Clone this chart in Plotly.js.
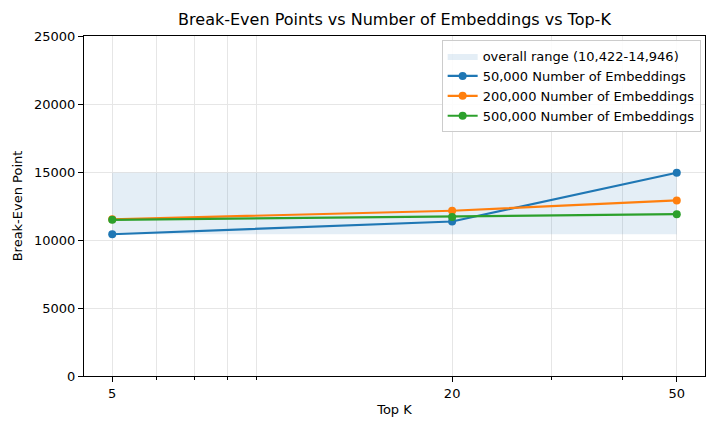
<!DOCTYPE html>
<html>
<head>
<meta charset="utf-8">
<script src="https://cdn.plot.ly/plotly-3.0.1.min.js"></script>
<style>
  html, body { margin: 0; padding: 0; background: #ffffff; }
  #chart { width: 720px; height: 432px; }
</style>
</head>
<body>
<div id="chart"></div>
<script>
  // values
  const topK = [5, 20, 50];
  const seriesNames = [
    "50,000 Number of Embeddings",
    "200,000 Number of Embeddings",
    "500,000 Number of Embeddings"
  ];
  const emb50k = [10422, 11360, 14946];
  const emb200k = [11520, 12150, 12910];
  const emb500k = [11480, 11700, 11900];
  const minorTicks = [6, 7, 8, 9, 30, 40];
  const yTicks = [0, 5000, 10000, 15000, 20000, 25000];

  const colors = ["#1f77b4", "#ff7f0e", "#2ca02c"];
  const FONT = "DejaVu Sans, Liberation Sans, sans-serif";

  (function () {
    const all = emb50k.concat(emb200k, emb500k);
    const lo = Math.min.apply(null, all);
    const hi = Math.max.apply(null, all);
    const x0 = topK[0], x1 = topK[topK.length - 1];

    const fmt = v => v.toLocaleString("en-US");

    let band = {
      x: [x0, x1, x1, x0, x0],
      y: [lo, lo, hi, hi, lo],
      type: "scatter",
      mode: "lines",
      fill: "toself",
      fillcolor: "rgba(31,119,180,0.12)",
      line: { width: 0, color: "rgba(0,0,0,0)" },
      name: "overall range (" + fmt(lo) + "-" + fmt(hi) + ")",
      hoverinfo: "skip"
    };

    let lines = [emb50k, emb200k, emb500k].map(function (vals, i) {
      return {
        x: topK,
        y: vals,
        type: "scatter",
        mode: "lines+markers",
        name: seriesNames[i],
        line: { color: colors[i], width: 2.2 },
        marker: { color: colors[i], size: 8 }
      };
    });

    let lx0 = Math.log10(x0), lx1 = Math.log10(x1);
    let pad = (lx1 - lx0) * 0.05;

    var layout = {
      width: 720,
      height: 432,
      paper_bgcolor: "#ffffff",
      plot_bgcolor: "#ffffff",
      font: { family: FONT, size: 13, color: "#000000" },
      margin: { l: 84, r: 15, t: 36, b: 56 },
      title: {
        text: "Break-Even Points vs Number of Embeddings vs Top-K",
        font: { family: FONT, size: 16, color: "#000000" },
        x: 0.5, xanchor: "center", xref: "paper",
        y: 0.955, yanchor: "middle"
      },
      xaxis: {
        type: "log",
        range: [lx0 - pad, lx1 + pad],
        tickmode: "array",
        tickvals: topK,
        ticktext: topK.map(String),
        ticks: "outside",
        ticklen: 5,
        tickcolor: "#000000",
        tickfont: { family: FONT, size: 13 },
        showgrid: true,
        gridcolor: "#e6e6e6",
        gridwidth: 1,
        zeroline: false,
        showline: true,
        linecolor: "#000000",
        linewidth: 1,
        mirror: true,
        minor: {
          tickmode: "array",
          tickvals: minorTicks,
          ticks: "outside",
          ticklen: 3,
          tickcolor: "#000000",
          showgrid: true,
          gridcolor: "#e6e6e6",
          gridwidth: 1
        },
        title: { text: "Top K", font: { family: FONT, size: 13 }, standoff: 5 }
      },
      yaxis: {
        range: [0, 25000],
        tickmode: "array",
        tickvals: yTicks,
        ticktext: yTicks.map(String),
        ticks: "outside",
        ticklen: 5,
        tickcolor: "#000000",
        tickfont: { family: FONT, size: 13 },
        showgrid: true,
        gridcolor: "#e6e6e6",
        zeroline: false,
        showline: true,
        linecolor: "#000000",
        linewidth: 1,
        mirror: true,
        title: { text: "Break-Even Point", font: { family: FONT, size: 13 }, standoff: 8 }
      },
      legend: {
        x: 0.993, xanchor: "right",
        y: 0.988, yanchor: "top",
        bgcolor: "rgba(255,255,255,0.85)",
        bordercolor: "#cccccc",
        borderwidth: 1,
        font: { family: FONT, size: 13, color: "#000000" },
        tracegroupgap: 0,
        itemwidth: 30
      },
      showlegend: true
    };

    Plotly.newPlot("chart", [band].concat(lines), layout, { displayModeBar: false, staticPlot: true });
  })();
</script>
</body>
</html>
